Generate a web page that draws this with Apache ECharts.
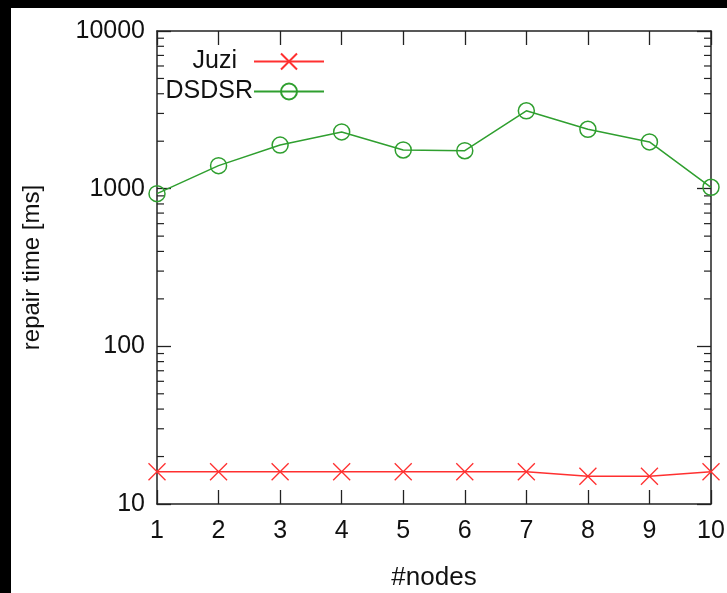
<!DOCTYPE html>
<html><head><meta charset="utf-8">
<script src="https://cdn.jsdelivr.net/npm/echarts@6/dist/echarts.min.js"></script>
<style>html,body{margin:0;padding:0;background:#000;width:727px;height:593px;overflow:hidden}
#c{position:absolute;left:11px;top:8px;width:716px;height:585px;background:#fff}</style>
</head><body><div id="c"></div>
<script>
const nodes = [1, 2, 3, 4, 5, 6, 7, 8, 9, 10];
const juzi = [16, 16, 16, 16, 16, 16, 16, 15, 15, 16];
const dsdsr = [930, 1400, 1890, 2290, 1760, 1740, 3120, 2380, 1980, 1020];
const yTicks = [10, 100, 1000, 10000];
const minorTicks = [20, 30, 40, 50, 60, 70, 80, 90, 200, 300, 400, 500, 600, 700, 800, 900, 2000, 3000, 4000, 5000, 6000, 7000, 8000, 9000];

const FONT = '"Liberation Sans", Arial, sans-serif';
const AX = '#222';
const RED = '#ff3030';
const GREEN = '#2f9f2f';
const cross = 'path://M0,0L10,10M10,0L0,10';

const chart = echarts.init(document.getElementById('c'));
const axisCommon = {
  type: 'value', min: 1, max: 10, interval: 1,
  axisLine: {show: true, lineStyle: {color: AX, width: 1.5}},
  axisTick: {show: true, inside: true, length: 14, lineStyle: {color: AX, width: 1.3}},
  splitLine: {show: false}
};
const yCommon = {
  type: 'log', logBase: 10, min: 10, max: 10000,
  axisLine: {show: true, lineStyle: {color: AX, width: 1.5}},
  axisTick: {show: true, inside: true, length: 14, lineStyle: {color: AX, width: 1.3}},
  splitLine: {show: false}, minorTick: {show: false}
};
chart.setOption({
  animation: false,
  backgroundColor: '#fff',
  grid: {left: 146, right: 16, top: 23, bottom: 89, containLabel: false, outerBoundsMode: 'none'},
  legend: [
    {data: ['Juzi'], orient: 'vertical', align: 'right', right: 402, top: 41, padding: 0,
     itemWidth: 70, itemHeight: 20, textStyle: {fontFamily: FONT, fontSize: 25, color: '#111', padding: [0, 12, 0, 0]}},
    {data: ['DSDSR'], orient: 'vertical', align: 'right', right: 402, top: 71, padding: 0,
     itemWidth: 70, itemHeight: 20, textStyle: {fontFamily: FONT, fontSize: 25, color: '#111', padding: [0, -4, 0, 0]}}
  ],
  xAxis: [
    Object.assign({}, axisCommon, {position: 'bottom',
      name: '#nodes', nameLocation: 'middle', nameGap: 61,
      nameTextStyle: {fontFamily: FONT, fontSize: 26, color: '#111'},
      axisLabel: {fontFamily: FONT, fontSize: 25, color: '#111', margin: 15}}),
    Object.assign({}, axisCommon, {position: 'top', axisLabel: {show: false}})
  ],
  yAxis: [
    Object.assign({}, yCommon, {position: 'left',
      name: 'repair time [ms]', nameLocation: 'middle', nameGap: 113, nameRotate: 90,
      nameTextStyle: {fontFamily: FONT, fontSize: 24, color: '#111'},
      axisLabel: {fontFamily: FONT, fontSize: 25, color: '#111', margin: 12,
        customValues: yTicks, formatter: v => String(v)}}),
    Object.assign({}, yCommon, {position: 'right', axisLabel: {show: false}})
  ],
  series: [
    {name: 'Juzi', type: 'line', data: nodes.map((n, i) => [n, juzi[i]]),
     symbol: cross, symbolSize: 17,
     lineStyle: {color: RED, width: 1.5},
     itemStyle: {color: 'rgba(0,0,0,0)', borderColor: RED, borderWidth: 1.3}},
    {name: 'DSDSR', type: 'line', data: nodes.map((n, i) => [n, dsdsr[i]]),
     symbol: 'circle', symbolSize: 16,
     lineStyle: {color: GREEN, width: 1.5},
     itemStyle: {color: 'rgba(0,0,0,0)', borderColor: GREEN, borderWidth: 1.5}},
    {name: 'minor', type: 'custom', silent: true, z: 1,
     data: minorTicks.map(v => [1, v]), encode: {x: 0, y: 1},
     renderItem: function (params, api) {
       const v = api.value(1);
       const l = api.coord([1, v]);
       const r = api.coord([10, v]);
       return {type: 'group', children: [
         {type: 'line', shape: {x1: l[0], y1: l[1], x2: l[0] + 7, y2: l[1]}, style: {stroke: AX, lineWidth: 1.2}},
         {type: 'line', shape: {x1: r[0], y1: r[1], x2: r[0] - 7, y2: r[1]}, style: {stroke: AX, lineWidth: 1.2}}
       ]};
     }}
  ]
});
</script></body></html>
